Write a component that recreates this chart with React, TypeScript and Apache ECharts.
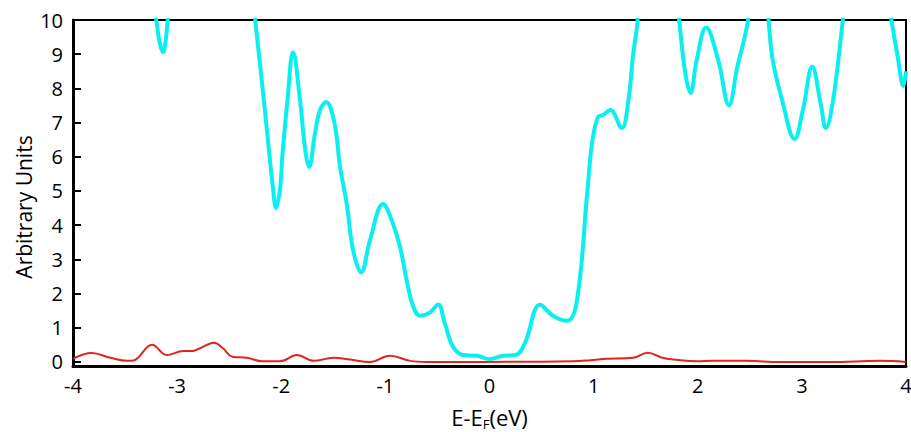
import React, { useEffect, useRef } from "react";
import * as echarts from "echarts";

const xTicks = [-4, -3, -2, -1, 0, 1, 2, 3, 4];
const yTicks = [0, 1, 2, 3, 4, 5, 6, 7, 8, 9, 10];
const yTitle = "Arbitrary Units";

const cyanX = [
  -4.0, -3.5, -3.3, -3.2, -3.165, -3.135, -3.11, -3.09, -3.0, -2.7, -2.4, -2.28, -2.25, -2.2, -2.135, -2.08, -2.05,
  -2.01, -1.99, -1.94, -1.887, -1.82, -1.77, -1.733, -1.675, -1.627, -1.57, -1.49, -1.435, -1.37, -1.31, -1.233,
  -1.147, -1.022, -0.94, -0.859, -0.79, -0.73, -0.667, -0.57, -0.494, -0.43, -0.35, -0.254, -0.12, 0.0, 0.13, 0.25,
  0.34, 0.486, 0.61, 0.745, 0.84, 0.94, 0.985, 1.04, 1.09, 1.16, 1.27, 1.33, 1.38, 1.42, 1.46, 1.6, 1.75, 1.82,
  1.88, 1.93, 1.99, 2.08, 2.196, 2.3, 2.38, 2.475, 2.52, 2.6, 2.65, 2.68, 2.72, 2.81, 2.93, 3.01, 3.1, 3.18, 3.23,
  3.3, 3.39, 3.45, 3.6, 3.75, 3.86, 3.92, 3.975, 4.0,
];
const cyanY = [
  13, 13, 12.2, 10.0, 9.3, 9.06, 9.4, 10.0, 12.2, 13, 12.5, 11, 10.0, 8.6, 6.7, 5.1, 4.5,
  5.1, 6.0, 7.66, 9.06, 7.66, 6.2, 5.7, 6.7, 7.37, 7.6, 7.0, 5.7, 4.6, 3.27, 2.62,
  3.57, 4.62, 4.15, 3.36, 2.3, 1.6, 1.35, 1.45, 1.68, 1.14, 0.44, 0.2, 0.18, 0.08, 0.18, 0.2,
  0.55, 1.67, 1.35, 1.2, 1.8, 5.0, 6.4, 7.15, 7.22, 7.37, 6.84, 7.56, 9.0, 9.9, 11.5, 13, 11.5, 10.0,
  8.45, 7.87, 8.83, 9.78, 8.83, 7.51, 8.63, 9.85, 11, 11.5, 11, 10, 8.83, 7.66, 6.52, 7.37, 8.63, 7.56, 6.84,
  7.66, 9.9, 11.5, 13, 12, 10, 8.93, 8.07, 8.5,
];

const redX = [
  -4.0, -3.82, -3.64, -3.48, -3.42, -3.24, -3.1, -2.94, -2.85, -2.78, -2.645, -2.56, -2.47, -2.33, -2.18, -2.01,
  -1.85, -1.69, -1.5, -1.34, -1.15, -0.955, -0.76, -0.6, -0.09, 0.8, 0.97, 1.13, 1.38, 1.52, 1.66, 1.83, 1.99,
  2.15, 2.47, 2.79, 3.27, 3.75, 4.0,
];
const redY = [
  0.09, 0.26, 0.12, 0.03, 0.04, 0.5, 0.2, 0.32, 0.32, 0.4, 0.56, 0.4, 0.15, 0.12, 0.02, 0.02,
  0.2, 0.03, 0.12, 0.07, 0.0, 0.18, 0.03, 0.0, 0.0, 0.02, 0.05, 0.09, 0.12, 0.27, 0.12, 0.05, 0.02,
  0.03, 0.03, 0.0, 0.0, 0.03, 0.0,
];

const FONT = "Open Sans";

export default function App() {
  const ref = useRef<HTMLDivElement>(null);
  useEffect(() => {
    if (!ref.current) return;
    const chart = echarts.init(ref.current, null, { renderer: "svg" });
    const cyanData = cyanX.map((x, i) => [x, cyanY[i]]);
    const redData = redX.map((x, i) => [x, redY[i]]);
    chart.setOption({
      animation: false,
      backgroundColor: "#ffffff",
      grid: {
        left: 73,
        right: 5,
        top: 20,
        bottom: 66,
        containLabel: false,
        outerBoundsMode: "none",
        show: true,
        borderColor: "#000",
        borderWidth: 2,
        backgroundColor: "transparent",
      },
      graphic: [
        {
          type: "text",
          x: 24,
          y: 207,
          rotation: Math.PI / 2,
          style: {
            text: yTitle,
            fontSize: 21,
            fontFamily: FONT,
            fill: "#000",
            align: "center",
            verticalAlign: "middle",
          },
        },
      ],
      xAxis: {
        type: "value",
        min: xTicks[0],
        max: xTicks[xTicks.length - 1],
        interval: 1,
        axisLine: { show: true, onZero: false, lineStyle: { color: "#000", width: 3 } },
        axisTick: { show: false },
        splitLine: { show: false },
        axisLabel: { color: "#000", fontSize: 20, fontFamily: FONT, margin: 9 },
        name: "{a|E-E}{b|F}{a|(eV)}",
        nameLocation: "middle",
        nameGap: 37,
        nameTextStyle: {
          rich: {
            a: { fontSize: 22, fontFamily: FONT, color: "#000" },
            b: { fontSize: 13, fontFamily: FONT, color: "#000", verticalAlign: "bottom", padding: [14, 0, 0, 0] },
          },
        },
      },
      yAxis: {
        type: "value",
        min: -0.12,
        max: 10,
        axisLine: { show: true, onZero: false, lineStyle: { color: "#000", width: 3 } },
        axisTick: {
          show: true,
          inside: true,
          length: 8,
          lineStyle: { color: "#000", width: 2 },
          customValues: yTicks,
        },
        splitLine: { show: false },
        axisLabel: {
          color: "#000",
          fontSize: 20,
          fontFamily: FONT,
          margin: 10,
          customValues: yTicks,
        },
      },
      series: [
        {
          type: "line",
          data: redData,
          smooth: 0.4,
          showSymbol: false,
          clip: true,
          lineStyle: { color: "#e2231e", width: 2 },
        },
        {
          type: "line",
          data: cyanData,
          smooth: 0.4,
          showSymbol: false,
          clip: true,
          lineStyle: { color: "#0aeff0", width: 4 },
        },
      ],
    });
    return () => chart.dispose();
  }, []);
  return (
    <div
      ref={ref}
      style={{ position: "fixed", left: 0, top: 0, width: 911, height: 432, background: "#fff" }}
    />
  );
}
